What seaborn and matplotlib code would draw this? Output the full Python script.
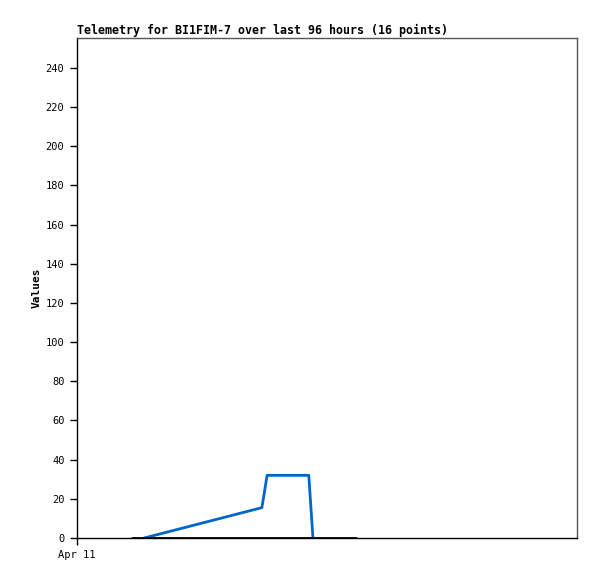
import pandas as pd
import seaborn as sns
import matplotlib.pyplot as plt

# hours since Apr 11 00:00
blue_hours = [12.9, 35.5, 36.5, 44.5, 45.3]
blue_vals = [0, 15.5, 32, 32, 0]
black_hours = [10.6, 53.6]
black_vals = [0, 0]
ytick_vals = list(range(0, 241, 20))
xtick_labels = ['Apr 11']

sns.set_theme(style='white')
plt.rcParams['font.family'] = ['DejaVu Sans Mono']
plt.rcParams['text.color'] = 'black'
plt.rcParams['axes.labelcolor'] = 'black'
plt.rcParams['xtick.color'] = 'black'
plt.rcParams['ytick.color'] = 'black'

df_blue = pd.DataFrame({'hour': blue_hours, 'value': blue_vals})
df_black = pd.DataFrame({'hour': black_hours, 'value': black_vals})

fig = plt.figure(figsize=(5.97, 5.79), dpi=100)
ax = fig.add_axes([77 / 597, 41 / 579, 500 / 597, 500 / 579])

sns.lineplot(data=df_blue, x='hour', y='value', ax=ax, color='#0066cc', linewidth=2)
sns.lineplot(data=df_black, x='hour', y='value', ax=ax, color='black', linewidth=2)

ax.set_xlim(0, 96)
ax.set_ylim(0, 255.3)
ax.set_yticks(ytick_vals)
ax.set_xticks([0])
ax.set_xticklabels(xtick_labels)
ax.tick_params(axis='both', labelsize=7.5, length=5, width=1, color='black', direction='out',
               left=True, bottom=True, pad=4)
ax.set_xlabel('')
ax.set_ylabel('Values', fontsize=8, fontweight='bold', labelpad=3)
ax.set_title('Telemetry for BI1FIM-7 over last 96 hours (16 points)', loc='left',
             fontsize=8.35, fontweight='bold', pad=3)
for s in ax.spines.values():
    s.set_color('#555555')
    s.set_linewidth(1)
ax.spines['bottom'].set_color('black')
ax.spines['left'].set_color('black')

fig.savefig('out.png', dpi=100)
